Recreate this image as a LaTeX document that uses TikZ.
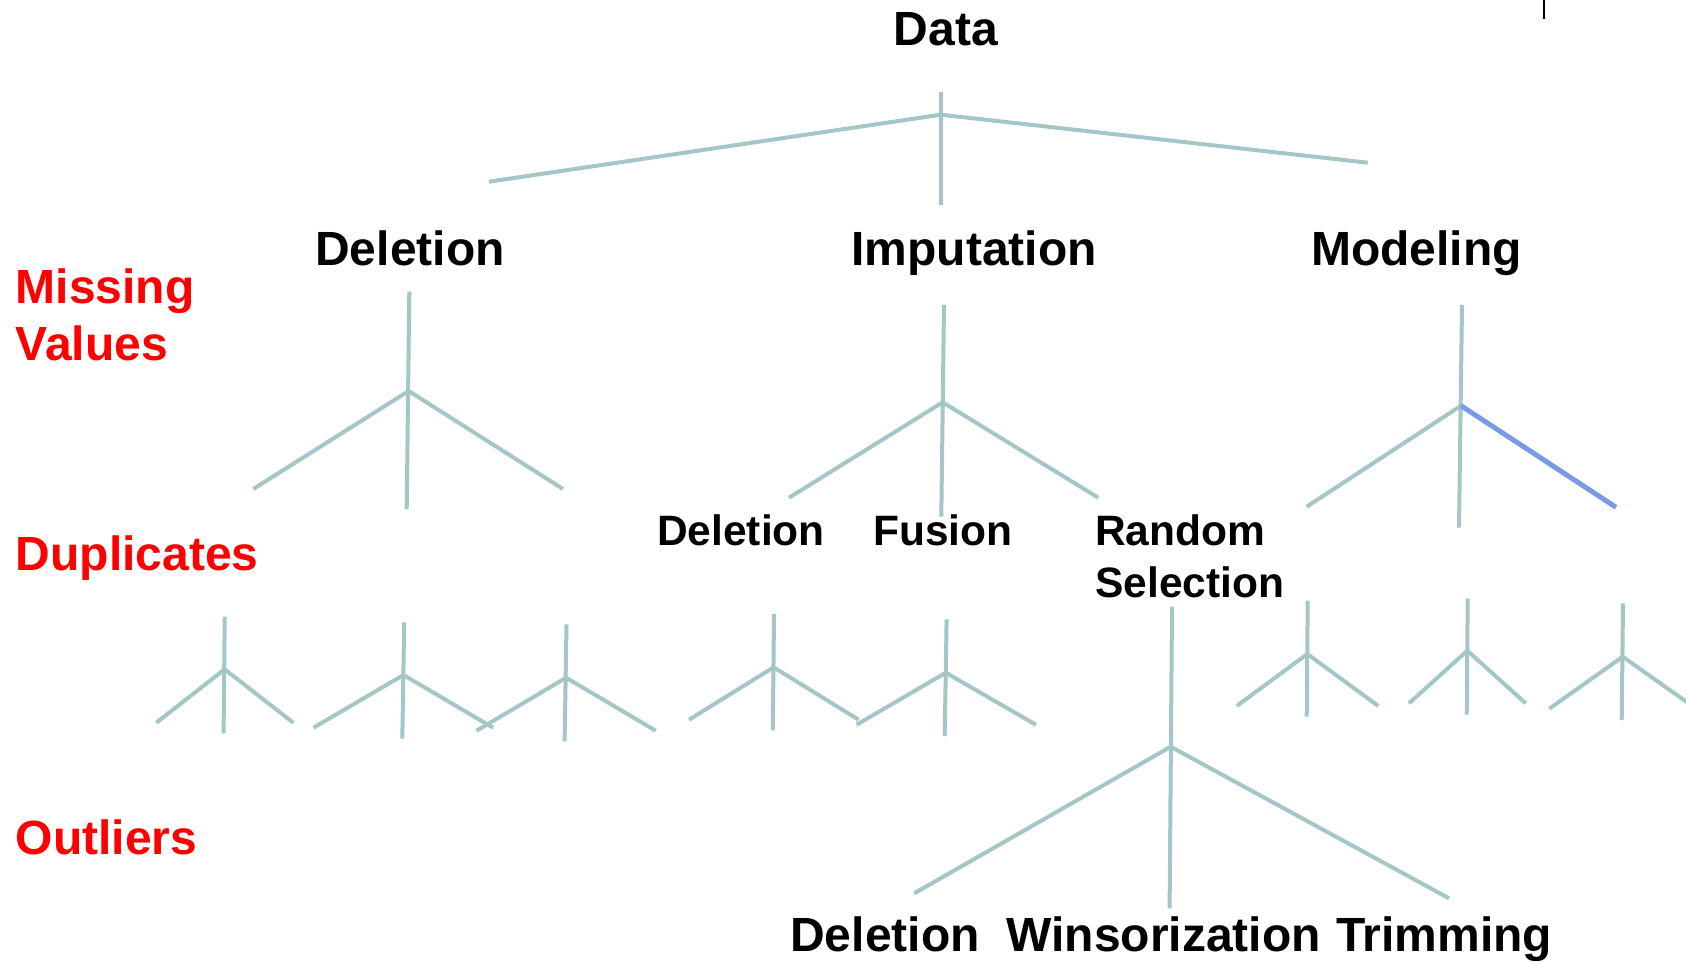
\documentclass[tikz,border=0pt]{standalone}
\usepackage{fontspec}
\setmainfont{Liberation Sans}
\definecolor{forkgray}{RGB}{165,198,198}
\definecolor{forkblue}{RGB}{123,154,230}
\definecolor{labelred}{RGB}{255,0,0}
\newcommand\myfork[6]{%
  \coordinate (#1t) at (#2);
  \coordinate (#1b) at (#3);
  \coordinate (#1d) at (#4);
  \coordinate (#1l) at (#5);
  \coordinate (#1r) at (#6);
  \draw[forkline] (#1t) -- (#1d);
  \draw[forkline] (#1l) -- (#1b) -- (#1r);
}
\tikzset{
  forkline/.style={draw=forkgray, line width=4pt},
  bluebranch/.style={draw=forkblue, line width=5pt},
  bigtext/.style={inner sep=0pt, anchor=base, font=\bfseries\fontsize{48}{57}\selectfont},
  midtext/.style={inner sep=0pt, anchor=base, font=\bfseries\fontsize{42.5}{52}\selectfont},
  redtext/.style={inner sep=0pt, anchor=base west, align=left, text=labelred, font=\bfseries\fontsize{48}{57}\selectfont},
}
\begin{document}
\begin{tikzpicture}[x=1pt,y=-1pt]
\useasboundingbox (0,0) rectangle (1686,961);
% tick mark at top right
\coordinate (ticka) at (1544,0);
\coordinate (tickb) at (1544,19);
\draw[black, line width=1.6pt] (ticka) -- (tickb);

% texts
\node[bigtext] (data) at (946,45) {Data};
\node[bigtext] (del) at (410,265) {Deletion};
\node[bigtext] (imp) at (974,265) {Imputation};
\node[bigtext] (mod) at (1416.5,265) {Modeling};
\node[midtext] (ddel) at (741,545) {Deletion};
\node[midtext] (dfus) at (943,545) {Fusion};
\node[midtext, anchor=base west, align=left] (drs) at (1095,597) {Random\\Selection};
\node[bigtext] (odel) at (885,951) {Deletion};
\node[bigtext] (owin) at (1163.5,951) {Winsorization};
\node[bigtext] (otrim) at (1444,951) {Trimming};
\node[redtext] (mv) at (15.5,360) {Missing\\Values};
\node[redtext] (dup) at (15.5,570) {Duplicates};
\node[redtext] (out) at (15.5,854) {Outliers};

% big forks
\myfork{T}{941,91.7}{941,114.7}{941,205.3}{489,181.7}{1367.7,162.7}
\myfork{D}{409.3,291.7}{408.7,391}{406.7,509.3}{253.3,489}{563,489}
\myfork{I}{944,305}{942.7,402.3}{941.3,516.7}{789,497.7}{1098.3,497.7}
% modeling fork (right branch blue)
\coordinate (Mt) at (1462,305);
\coordinate (Mb) at (1461,405.7);
\coordinate (Md) at (1459,527.7);
\coordinate (Ml) at (1306.7,506.7);
\coordinate (Mr) at (1616,507.3);
\draw[forkline] (Mt) -- (Md);
\draw[forkline] (Ml) -- (Mb);
\draw[bluebranch] (Mb) -- (Mr);
\myfork{R}{1172,606.7}{1170.7,746.7}{1169.6,908.3}{914.3,893.3}{1449,898.3}

% small forks
\myfork{A}{224.7,616.7}{224.7,669.3}{223.6,733.3}{156.3,722.7}{293.3,722.7}
\myfork{B}{404.2,622.3}{403.5,675}{402.3,738.7}{313.5,727.7}{493,727.7}
\myfork{C}{566.5,624.3}{566.1,677.7}{564.6,741.3}{476.6,730.7}{655.7,730.7}
\myfork{E}{774,614}{773.6,667.3}{772.8,730.3}{689,719.7}{858.6,719.7}
\myfork{F}{946.6,619.3}{945.8,672.7}{944.7,736}{856.6,724.7}{1035.8,724.7}
\myfork{G}{1307.7,600.7}{1307.3,654}{1306.7,716.7}{1236.7,706}{1378.3,706}
\myfork{H}{1467.7,598.3}{1467.3,650.7}{1466.7,714.7}{1409,703.3}{1525.7,703.3}
\myfork{K}{1623,603.3}{1622.7,656.7}{1621.7,720}{1549.3,708.7}{1690,704.3}
\end{tikzpicture}
\end{document}
